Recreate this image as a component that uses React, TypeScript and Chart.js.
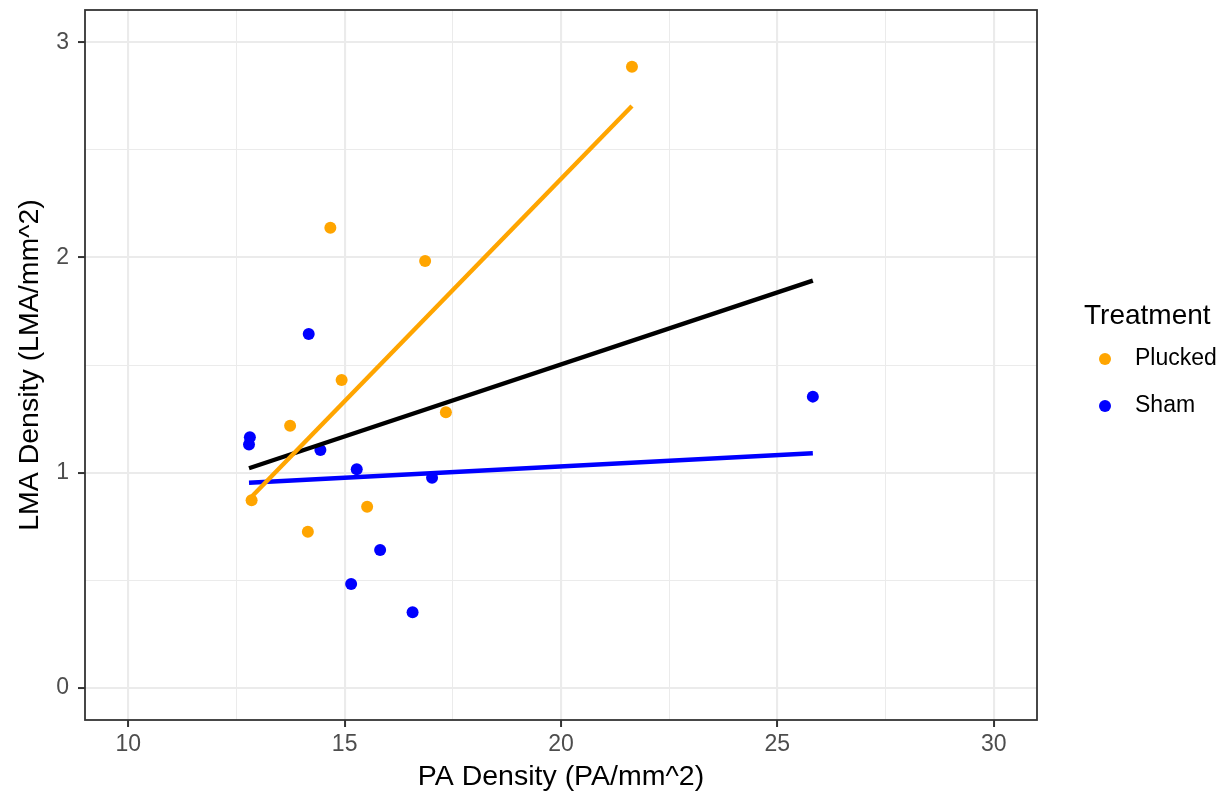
import React, { useEffect, useRef } from "react";
import { Chart, registerables } from "chart.js";

Chart.register(...registerables);

// Leaf samples: PA density (x) vs LMA density (y)
const pluckedX = [14.67, 16.86, 14.93, 17.34, 13.74, 12.85, 15.52, 14.15, 21.64];
const pluckedY = [2.138, 1.983, 1.43, 1.28, 1.218, 0.871, 0.841, 0.725, 2.886];
const shamX = [14.17, 12.81, 12.79, 14.44, 15.28, 17.02, 15.82, 15.15, 16.57, 25.82];
const shamY = [1.644, 1.164, 1.131, 1.105, 1.015, 0.976, 0.64, 0.482, 0.351, 1.353];

// Linear fit end points (per treatment and overall)
const pluckedFitX = [12.85, 21.64];
const pluckedFitY = [0.888, 2.704];
const shamFitX = [12.79, 25.82];
const shamFitY = [0.953, 1.09];
const allFitX = [12.79, 25.82];
const allFitY = [1.02, 1.892];

const xMajorTicks = [10, 15, 20, 25, 30];
const xMinorTicks = [12.5, 17.5, 22.5, 27.5];
const yMajorTicks = [0, 1, 2, 3];
const yMinorTicks = [0.5, 1.5, 2.5];

const treatments = ["Plucked", "Sham"];
const treatmentColors = ["#FFA500", "#0000FF"];

const FONT = '"Liberation Sans", Arial, Helvetica, sans-serif';

const toPoints = (xs: number[], ys: number[]) => xs.map((x, i) => ({ x, y: ys[i] }));

const panelAndLegend = {
  id: "panelAndLegend",
  afterDraw(chart: any) {
    const { ctx, chartArea } = chart;
    ctx.save();
    ctx.strokeStyle = "#333333";
    ctx.lineWidth = 1.8;
    ctx.strokeRect(chartArea.left, chartArea.top, chartArea.right - chartArea.left, chartArea.bottom - chartArea.top);

    ctx.textBaseline = "middle";
    ctx.textAlign = "left";
    ctx.fillStyle = "#000000";
    ctx.font = `28px ${FONT}`;
    ctx.fillText("Treatment", 1084, 316);
    ctx.font = `23px ${FONT}`;
    treatments.forEach((name, i) => {
      const cy = 359 + i * 47;
      ctx.beginPath();
      ctx.fillStyle = treatmentColors[i];
      ctx.arc(1105, cy, 6, 0, Math.PI * 2);
      ctx.fill();
      ctx.fillStyle = "#000000";
      ctx.fillText(name, 1135, cy);
    });
    ctx.restore();
  },
};

const isMajor = (v: number, majors: number[]) => majors.some((m) => Math.abs(m - v) < 1e-9);

export default function App() {
  const canvasRef = useRef<HTMLCanvasElement | null>(null);

  useEffect(() => {
    const canvas = canvasRef.current;
    if (!canvas) return;

    const lineSet = (label: string, xs: number[], ys: number[], color: string, order: number) => ({
      type: "line" as const,
      label,
      data: toPoints(xs, ys),
      borderColor: color,
      backgroundColor: color,
      borderWidth: 4.4,
      borderCapStyle: "butt" as const,
      pointRadius: 0,
      showLine: true,
      tension: 0,
      fill: false,
      order,
    });

    const chart = new Chart(canvas, {
      type: "scatter",
      data: {
        datasets: [
          {
            label: "Plucked",
            data: toPoints(pluckedX, pluckedY),
            backgroundColor: treatmentColors[0],
            borderWidth: 0,
            pointRadius: 6,
            order: 5,
          },
          {
            label: "Sham",
            data: toPoints(shamX, shamY),
            backgroundColor: treatmentColors[1],
            borderWidth: 0,
            pointRadius: 6,
            order: 4,
          },
          lineSet("All", allFitX, allFitY, "#000000", 3),
          lineSet("Sham fit", shamFitX, shamFitY, treatmentColors[1], 2),
          lineSet("Plucked fit", pluckedFitX, pluckedFitY, treatmentColors[0], 1),
        ] as any,
      },
      options: {
        responsive: false,
        animation: false,
        events: [],
        layout: { padding: { top: 10, right: 188, left: 0, bottom: 0 } },
        plugins: {
          legend: { display: false },
          tooltip: { enabled: false },
        },
        scales: {
          x: {
            type: "linear",
            min: 9,
            max: 31,
            afterBuildTicks: (scale: any) => {
              scale.ticks = [...xMajorTicks, ...xMinorTicks].sort((a, b) => a - b).map((value) => ({ value }));
            },
            afterFit: (scale: any) => {
              scale.height = 75;
              scale.paddingLeft = 0;
              scale.paddingRight = 0;
            },
            ticks: {
              autoSkip: false,
              maxRotation: 0,
              padding: 4,
              color: "#4d4d4d",
              font: { family: FONT, size: 23 },
              callback: (v: any) => (isMajor(Number(v), xMajorTicks) ? String(v) : ""),
            },
            grid: {
              color: "#ebebeb",
              lineWidth: (c: any) => (isMajor(c.tick.value, xMajorTicks) ? 2.1 : 1),
              tickColor: (c: any) => (isMajor(c.tick.value, xMajorTicks) ? "#333333" : "rgba(0,0,0,0)"),
              tickLength: 7,
              tickWidth: 2,
            },
            border: { display: false },
            title: {
              display: true,
              text: "PA Density (PA/mm^2)",
              color: "#000000",
              font: { family: FONT, size: 28.5, lineHeight: 1 },
              padding: { top: 0, bottom: 3.6 },
            },
          },
          y: {
            type: "linear",
            min: -0.15,
            max: 3.15,
            afterBuildTicks: (scale: any) => {
              scale.ticks = [...yMajorTicks, ...yMinorTicks].sort((a, b) => a - b).map((value) => ({ value }));
            },
            afterFit: (scale: any) => {
              scale.width = 85;
              scale.paddingTop = 0;
              scale.paddingBottom = 0;
            },
            ticks: {
              autoSkip: false,
              padding: 9,
              color: "#4d4d4d",
              font: { family: FONT, size: 23 },
              callback: (v: any) => (isMajor(Number(v), yMajorTicks) ? String(v) : ""),
            },
            grid: {
              color: "#ebebeb",
              lineWidth: (c: any) => (isMajor(c.tick.value, yMajorTicks) ? 2.1 : 1),
              tickColor: (c: any) => (isMajor(c.tick.value, yMajorTicks) ? "#333333" : "rgba(0,0,0,0)"),
              tickLength: 7,
              tickWidth: 2,
            },
            border: { display: false },
            title: {
              display: true,
              text: "LMA Density (LMA/mm^2)",
              color: "#000000",
              font: { family: FONT, size: 28.5, lineHeight: 1 },
              padding: { top: 15.6, bottom: 0 },
            },
          },
        },
      },
      plugins: [panelAndLegend],
    });

    return () => chart.destroy();
  }, []);

  return (
    <div style={{ position: "absolute", left: 0, top: 0, width: 1225, height: 795, background: "#ffffff" }}>
      <canvas ref={canvasRef} width={1225} height={795} style={{ display: "block" }} />
    </div>
  );
}
